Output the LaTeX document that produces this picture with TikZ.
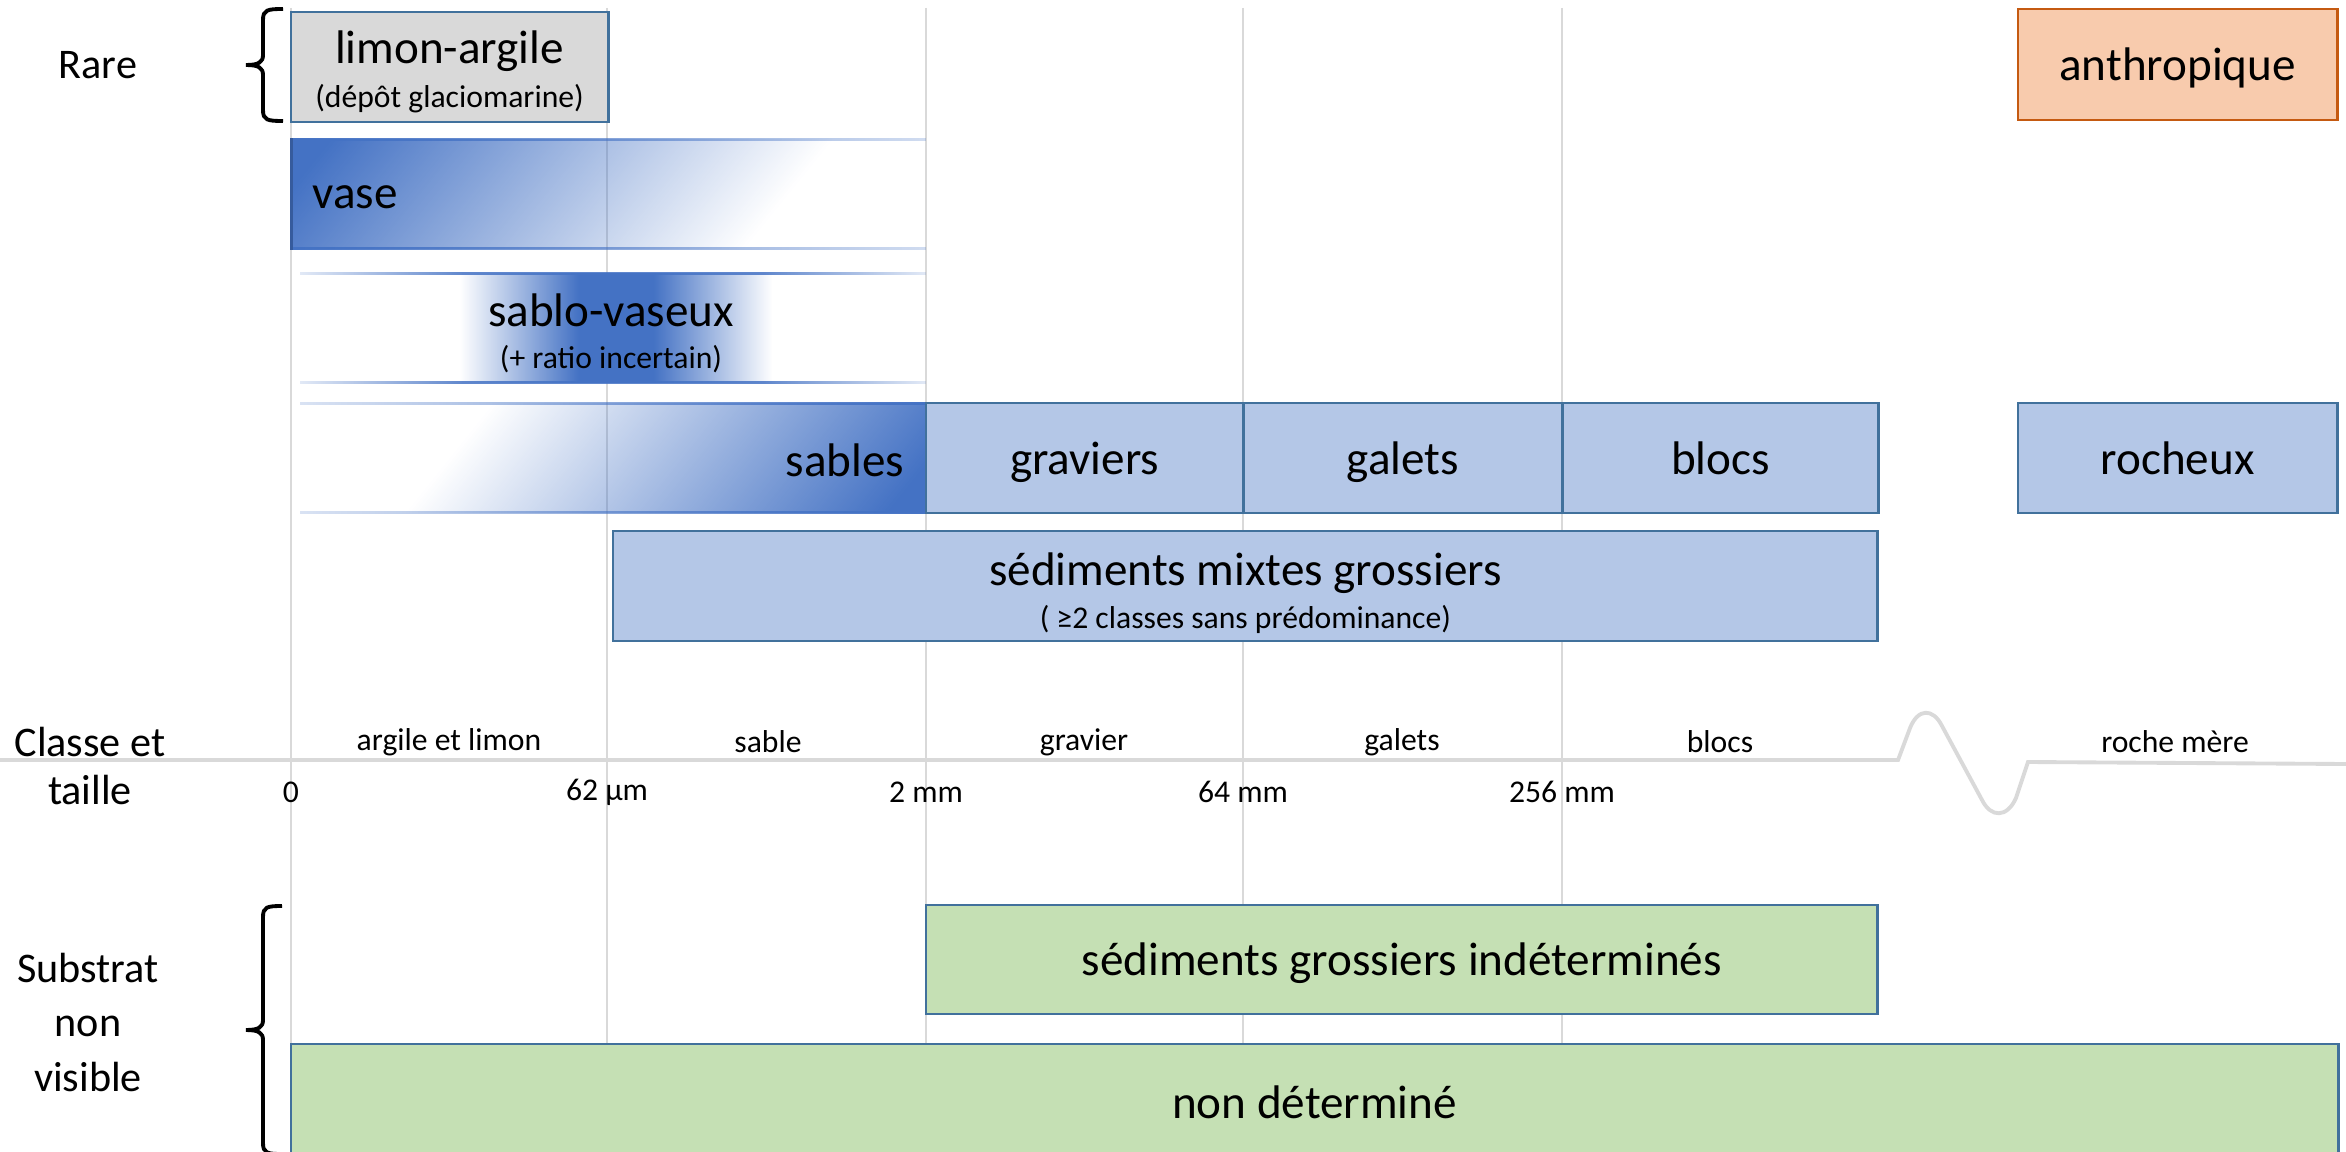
\documentclass[tikz,border=0pt]{standalone}
\usepackage{fontspec}
\setmainfont{Carlito}
\usetikzlibrary{positioning, fadings}
\definecolor{gridgray}{HTML}{D9D9D9}
\definecolor{edgeblue}{HTML}{41719C}
\definecolor{deepblue}{HTML}{4472C4}
\definecolor{paleblue}{HTML}{B4C7E7}
\definecolor{palegray}{HTML}{D9D9D9}
\definecolor{peach}{HTML}{F8CBAD}
\definecolor{rust}{HTML}{C55A11}
\definecolor{sage}{HTML}{C5E0B4}
\newcommand\boxfont{\fontsize{13.4}{16}\selectfont}
\newcommand\subfont{\fontsize{9}{11}\selectfont}
\newcommand\axisfont{\fontsize{9}{11}\selectfont}
\newcommand\sidefont{\fontsize{12}{15.5}\selectfont}
% fadings for the blurred classes
\pgfdeclarehorizontalshading{vaseshd}{100bp}{color(0bp)=(white); color(25bp)=(white); color(64bp)=(black); color(100bp)=(black)}
\pgfdeclarefading{vasefade}{\pgfuseshading{vaseshd}}
\pgfdeclarehorizontalshading{vaseedgeshd}{100bp}{color(0bp)=(white); color(25bp)=(white); color(75bp)=(white!25!black); color(100bp)=(white!25!black)}
\pgfdeclarefading{vaseedge}{\pgfuseshading{vaseedgeshd}}
\pgfdeclarehorizontalshading{sabloshd}{100bp}{color(0bp)=(black); color(25bp)=(black); color(44bp)=(white); color(56bp)=(white); color(75bp)=(black); color(100bp)=(black)}
\pgfdeclarefading{sablofade}{\pgfuseshading{sabloshd}}
\pgfdeclarehorizontalshading{sabloedgeshd}{100bp}{color(0bp)=(white!15!black); color(25bp)=(white!15!black); color(38bp)=(white!85!black); color(62bp)=(white!85!black); color(75bp)=(white!15!black); color(100bp)=(white!15!black)}
\pgfdeclarefading{sabloedge}{\pgfuseshading{sabloedgeshd}}
\pgfdeclarehorizontalshading{sablesshd}{100bp}{color(0bp)=(black); color(25bp)=(black); color(37bp)=(black); color(75bp)=(white); color(100bp)=(white)}
\pgfdeclarefading{sablesfade}{\pgfuseshading{sablesshd}}
\pgfdeclarehorizontalshading{sablesedgeshd}{100bp}{color(0bp)=(white!20!black); color(25bp)=(white!20!black); color(75bp)=(white); color(100bp)=(white)}
\pgfdeclarefading{sablesedge}{\pgfuseshading{sablesedgeshd}}
\tikzset{
  grain/.style    = {rectangle, draw=edgeblue, line width=0.8pt, fill=paleblue,
                     minimum height=1.1cm, outer sep=0pt, inner sep=0pt,
                     text height=12.2pt, text depth=3pt,
                     align=center, font=\boxfont},
  twoline/.style  = {text height=, text depth=},
  rarebox/.style  = {grain, fill=palegray},
  manbox/.style   = {grain, draw=rust, fill=peach},
  hidbox/.style   = {grain, fill=sage},
  freetxt/.style  = {inner sep=0pt, align=center, font=\boxfont},
  sidelbl/.style  = {inner sep=0pt, align=center, font=\sidefont},
  classlbl/.style = {inner sep=0pt, font=\axisfont},
  gridline/.style = {draw=gridgray, line width=0.8pt},
  axisline/.style = {draw=gridgray, line width=1.1pt},
  bracket/.style  = {draw=black, line width=1.1pt},
}
\begin{document}
\begin{tikzpicture}[x=0.01cm, y=-0.01cm]
  \useasboundingbox (0,0) rectangle (2346,1152);
  \clip (0,0) rectangle (2346,1152);

  % grid and size axis
  \foreach \gx in {291,607,926,1243,1562}
    \draw[gridline] (\gx,8) -- (\gx,1152);
  \draw[axisline] (0,760) -- (1898,760) -- (1910,728)
    .. controls (1918,708) and (1933,708) .. (1942,726) -- (1982,800)
    .. controls (1991,818) and (2007,818) .. (2016,798) -- (2028,762) -- (2346,764);

  % blurred classes
  \fill[deepblue, path fading=vasefade, fading angle=-8] (291,139) rectangle (926,249);
  \fill[deepblue, path fading=vaseedge] (291,138) rectangle (926,141);
  \fill[deepblue, path fading=vaseedge] (291,247) rectangle (926,250);
  \fill[deepblue!80!black] (290,138) rectangle (293,250);
  \fill[deepblue, path fading=sablofade] (460,273) rectangle (772,383);
  \fill[deepblue, path fading=sabloedge] (300,272) rectangle (926,275);
  \fill[deepblue, path fading=sabloedge] (300,381) rectangle (926,384);
  \fill[deepblue, path fading=sablesfade, fading angle=-8] (300,403) rectangle (926,513);
  \fill[deepblue, path fading=sablesedge] (300,402) rectangle (926,405);
  \fill[deepblue, path fading=sablesedge] (300,511) rectangle (926,514);

  \node[freetxt, anchor=west] (vasetxt) at (312,197) {vase};
  \node[freetxt] (sablotxt) at (611,333) {sablo-vaseux\\[-4pt]{\subfont (+ ratio incertain)}};
  \node[freetxt, anchor=east] (sablestxt) at (905,460) {sables};

  % classes
  \node[rarebox, twoline, anchor=north west, minimum width=3.17cm, minimum height=1.1cm]
    (limon) at (291,12) {\rule{0pt}{12.3pt}limon-argile\\[-3.5pt]{\subfont (dépôt glaciomarine)}};
  \node[manbox, anchor=north west, minimum width=3.19cm, minimum height=1.11cm]
    (anthro) at (2018,9) {anthropique};
  \node[grain, anchor=north west, minimum width=3.17cm] (grav) at (926,403) {graviers};
  \node[grain, right=0pt of grav, minimum width=3.19cm] (gal) {galets};
  \node[grain, right=0pt of gal, minimum width=3.16cm] (blocs) {blocs};
  \node[grain, anchor=north west, minimum width=3.19cm] (roch) at (2018,403) {rocheux};
  \node[grain, twoline, anchor=north west, minimum width=12.64cm] (mixtes) at (613,531)
    {\rule{0pt}{13.4pt}sédiments mixtes grossiers\\[-3.8pt]{\subfont ( ≥2 classes sans prédominance)}};
  \node[hidbox, anchor=north west, minimum width=9.51cm, minimum height=1.09cm]
    (indet) at (926,905) {sédiments grossiers indéterminés};
  \node[hidbox, anchor=north west, minimum width=20.46cm, minimum height=1.16cm]
    (nondet) at (291,1044) {non déterminé};

  % class names and limits
  \foreach \cx/\ctxt [count=\ci] in {449/argile et limon, 768/sable, 1084/gravier,
      1402/galets, 1720/blocs, 2175/roche mère}
    \node[classlbl] (cls\ci) at (\cx,742) {\ctxt};
  \foreach \sx/\stxt [count=\si] in {291/0, 607/62 µm, 926/2 mm, 1243/64 mm, 1562/256 mm}
    \node[classlbl] (sz\si) at (\sx,792) {\stxt};

  % side labels with their braces
  \node[sidelbl] (rare) at (98,65) {Rare};
  \node[sidelbl] (classe) at (90,742) {Classe et};
  \node[sidelbl] (taille) at (90,790) {taille};
  \node[sidelbl] (substrat) at (88,1022) {Substrat\\non\\visible};
  \draw[bracket] (283,9) .. controls (267,9) and (263,10) .. (263,20) -- (263,55)
    .. controls (263,62) and (259,65) .. (246,65) .. controls (259,65) and (263,68) .. (263,75)
    -- (263,110) .. controls (263,120) and (267,121) .. (283,121);
  \draw[bracket] (282,906) .. controls (267,906) and (263,907) .. (263,917) -- (263,1020)
    .. controls (263,1027) and (259,1030) .. (246,1030) .. controls (259,1030) and (263,1033) .. (263,1040)
    -- (263,1143) .. controls (263,1153) and (267,1154) .. (282,1154);

\end{tikzpicture}
\end{document}
